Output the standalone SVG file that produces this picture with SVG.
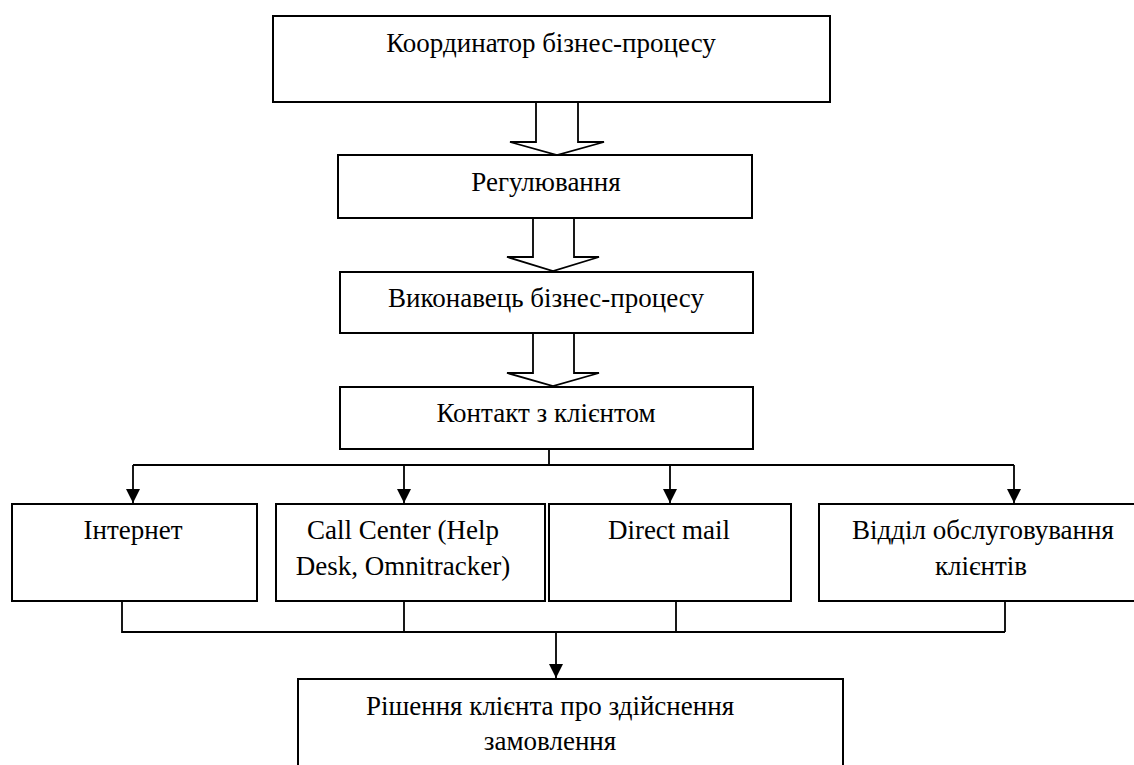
<svg xmlns="http://www.w3.org/2000/svg" width="1134" height="765" viewBox="0 0 1134 765">
<defs>
<style>
.box{fill:#fff;stroke:#000;stroke-width:2}
.t{font-family:"Liberation Serif","Times New Roman",serif;font-size:27px;fill:#000;text-anchor:middle}
.ln{fill:none;stroke:#000;stroke-width:1.8}
.blk{fill:#fff;stroke:#000;stroke-width:1.8;stroke-linejoin:miter}
</style>
<marker id="ah" viewBox="0 0 14 14" refX="14" refY="7" markerWidth="14" markerHeight="14" markerUnits="userSpaceOnUse" orient="auto">
<path d="M0,0 L14,7 L0,14 Z" fill="#000"/>
</marker>
</defs>
<rect width="1134" height="765" fill="#fff"/>
<g id="connectors">
<path class="blk" d="M536,102 L536,142 L510,142 L557,155 L604,142 L578,142 L578,102"/>
<path class="blk" d="M533,218 L533,257 L507,257 L553,271 L599,257 L574,257 L574,218"/>
<path class="blk" d="M533,333 L533,373 L507,373 L553,386 L599,373 L574,373 L574,333"/>
<path class="ln" d="M549,449 L549,465 M133,465 L1014,465"/>
<path class="ln" d="M133,465 L133,503" marker-end="url(#ah)"/>
<path class="ln" d="M404,465 L404,503" marker-end="url(#ah)"/>
<path class="ln" d="M670,465 L670,503" marker-end="url(#ah)"/>
<path class="ln" d="M1014,465 L1014,503" marker-end="url(#ah)"/>
<path class="ln" d="M122,601 L122,632 L1005,632 M404,601 L404,632 M676,601 L676,632 M1005,601 L1005,632"/>
<path class="ln" d="M556,632 L556,678" marker-end="url(#ah)"/>
</g>
<g id="n1"><rect class="box" x="273" y="16" width="557" height="86"/><text class="t" x="551" y="52">Координатор бізнес-процесу</text></g>
<g id="n2"><rect class="box" x="338" y="155" width="414" height="63"/><text class="t" x="546" y="191">Регулювання</text></g>
<g id="n3"><rect class="box" x="340" y="272" width="413" height="61"/><text class="t" x="546" y="307">Виконавець бізнес-процесу</text></g>
<g id="n4"><rect class="box" x="340" y="387" width="413" height="62"/><text class="t" x="546" y="422">Контакт з клієнтом</text></g>
<g id="n5"><rect class="box" x="12" y="504" width="245" height="97"/><text class="t" x="133" y="539">Інтернет</text></g>
<g id="n6"><rect class="box" x="276" y="504" width="269" height="97"/><text class="t" x="403" y="539">Call Center (Help</text><text class="t" x="403" y="575">Desk, Omnitracker)</text></g>
<g id="n7"><rect class="box" x="549" y="504" width="242" height="97"/><text class="t" x="669" y="539">Direct mail</text></g>
<g id="n8"><rect class="box" x="819" y="504" width="330" height="97"/><text class="t" x="983" y="539">Відділ обслуговування</text><text class="t" x="981" y="575">клієнтів</text></g>
<g id="n9"><rect class="box" x="298" y="679" width="545" height="100"/><text class="t" x="550" y="715">Рішення клієнта про здійснення</text><text class="t" x="550" y="750">замовлення</text></g>
</svg>
